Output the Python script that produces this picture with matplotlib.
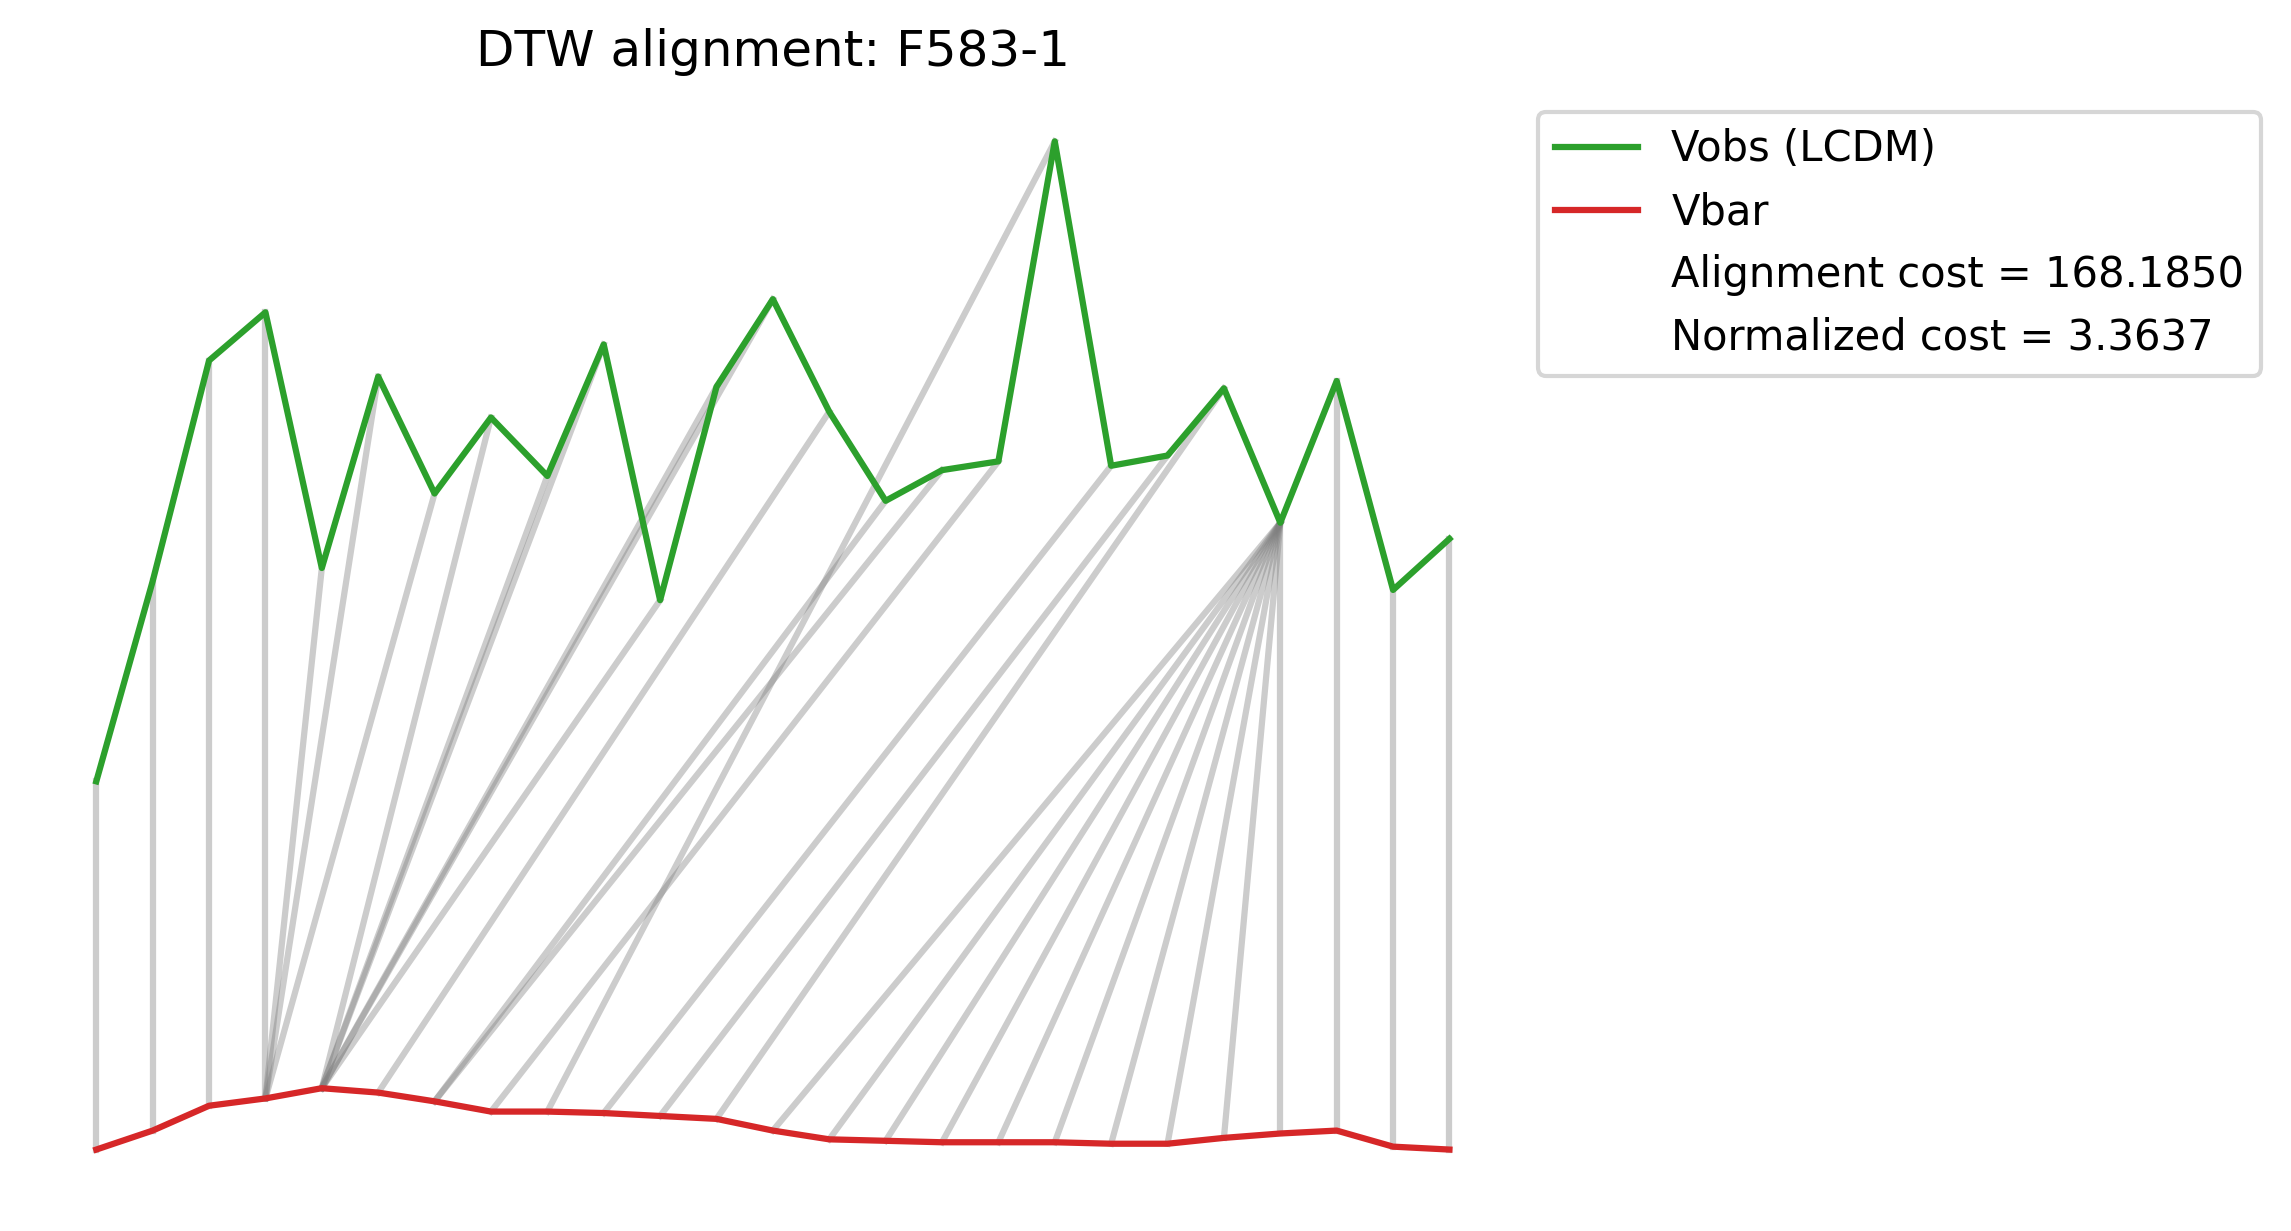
import numpy as np
import matplotlib
matplotlib.use('Agg')
import matplotlib.pyplot as plt

galaxy = 'F583-1'

# series as plotted (Vobs curve drawn above Vbar), 25 radii
vobs = [51.0, 78.4, 108.6, 115.2, 80.2, 106.4, 90.4, 100.8, 92.8, 110.8,
        75.8, 105.0, 117.0, 101.6, 89.4, 93.6, 94.8, 138.6, 94.2, 95.6,
        104.8, 86.4, 105.8, 77.2, 84.2]
vbar = [0.6, 3.2, 6.6, 7.6, 9.0, 8.4, 7.2, 5.8, 5.8, 5.6,
        5.2, 4.8, 3.2, 2.0, 1.8, 1.6, 1.6, 1.6, 1.4, 1.4,
        2.2, 2.8, 3.2, 1.0, 0.6]

# warping path: index into vobs, index into vbar
path_obs = [0, 1, 2, 3, 4, 5, 6, 7, 8, 9, 10, 11, 12, 13, 14, 15, 16, 17,
            18, 19, 20, 21, 21, 21, 21, 21, 21, 21, 21, 21, 21, 22, 23, 24]
path_bar = [0, 1, 2, 3, 3, 3, 3, 4, 4, 4, 4, 4, 4, 5, 6, 6, 7, 8,
            9, 10, 11, 12, 13, 14, 15, 16, 17, 18, 19, 20, 21, 22, 23, 24]

cost = 168.1850
norm_cost = 3.3637

x = np.arange(len(vobs))

fig = plt.figure(figsize=(2291 / 300, 1231 / 300), dpi=300)
ax = fig.add_axes([0.0125, 0.0252, 0.6497, 0.9009])

for i, j in zip(path_obs, path_bar):
    ax.plot([x[i], x[j]], [vobs[i], vbar[j]], color='gray', alpha=0.4, lw=1.5)

ax.plot(x, vobs, color='tab:green', lw=1.5, label='Vobs (LCDM)')
ax.plot(x, vbar, color='tab:red', lw=1.5, label='Vbar')
ax.plot([], [], ' ', label=f'Alignment cost = {cost:.4f}')
ax.plot([], [], ' ', label=f'Normalized cost = {norm_cost:.4f}')

ax.set_title(f'DTW alignment: {galaxy}')
ax.axis('off')
ax.legend(loc='upper left', bbox_to_anchor=(1, 1))

fig.savefig('out.png', dpi=300)
